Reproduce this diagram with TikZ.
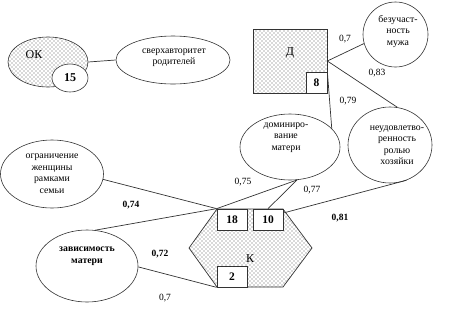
\documentclass[tikz,border=0pt]{standalone}
\usepackage{fontspec}
\setmainfont{Liberation Serif}
\usetikzlibrary{patterns,calc,shapes.geometric}
\pgfdeclarepatternformonly{sparsedots}{\pgfqpoint{-1pt}{-1pt}}{\pgfqpoint{4pt}{4pt}}{\pgfqpoint{4pt}{4pt}}{%
  \pgfpathcircle{\pgfqpoint{0pt}{0pt}}{0.55pt}%
  \pgfpathcircle{\pgfqpoint{2pt}{2pt}}{0.55pt}%
  \pgfusepath{fill}}
\begin{document}
\begin{tikzpicture}[x=1pt,y=-1pt,
  ln/.style={draw=black!80, line width=0.7pt},
  ell/.style={ellipse, draw=black!80, line width=0.6pt, inner sep=0pt},
  etxt/.style={font=\fontsize{9.8}{11.5}\selectfont, align=center, inner sep=0pt},
  nbox/.style={rectangle, draw=black!80, line width=0.7pt, fill=white, inner sep=0pt, font=\fontsize{11.5}{13}\selectfont\bfseries},
  val/.style={font=\fontsize{9.5}{10}\selectfont, inner sep=0pt},
  bval/.style={val, font=\fontsize{9.5}{10}\selectfont\bfseries},
  big/.style={font=\fontsize{12}{13}\selectfont, inner sep=0pt},
  dotfill/.style={pattern=sparsedots, pattern color=black!65}]
\useasboundingbox (0,0) rectangle (452,311);

% OK
\node[ell, dotfill, minimum width=80pt, minimum height=50pt] (ok) at (48,62) {};
\node[big] (okl) at (34,55) {ОК};
\node[ell, minimum width=114pt, minimum height=48pt] (sv) at (173,60) {};
\node[etxt] (svt) at (174,57.5) {сверхавторитет\\родителей};
\draw[ln] (ok.east) -- (sv.west);
\node[ell, fill=white, minimum width=36pt, minimum height=28pt, font=\fontsize{12}{13}\selectfont\bfseries] (n15) at (70,78) {15};

% D
\node[rectangle, draw=black!80, line width=0.7pt, dotfill, minimum width=74pt, minimum height=64pt] (d) at (290,61) {};
\node[big] (dl) at (290,53) {Д};
\node[nbox, minimum width=21pt, minimum height=21pt] (b8) at (316.5,82.5) {8};

% ellipses
\node[ell, minimum width=65pt, minimum height=65pt] (bez) at (395.5,34.5) {};
\node[etxt] (bezt) at (398,31.5) {безучаст-\\ность\\мужа};
\node[ell, minimum width=84pt, minimum height=76pt] (neud) at (390,145) {};
\node[etxt] (neudt) at (397,145) {неудовлетво-\\ренность\\ролью\\хозяйки};
\node[ell, minimum width=100pt, minimum height=66pt] (dom) at (290,147) {};
\node[etxt] (domt) at (286,137.5) {доминиро-\\вание\\матери};
\node[ell, minimum width=103pt, minimum height=68pt] (ogr) at (52,174) {};
\node[etxt] (ogrt) at (52,173.5) {ограничение\\женщины\\рамками\\семьи};
\node[ell, minimum width=102pt, minimum height=72pt] (zav) at (87,266) {};
\node[etxt, font=\fontsize{9.8}{11.5}\selectfont\bfseries] (zavt) at (87,256) {зависимость\\матери};

% hexagon K
\coordinate (h1) at (189,248);
\coordinate (h2) at (217,209);
\coordinate (h3) at (283,209);
\coordinate (h4) at (312,248);
\coordinate (h5) at (283,287);
\coordinate (h6) at (217,287);
\filldraw[ln, dotfill] (h1) -- (h2) -- (h3) -- (h4) -- (h5) -- (h6) -- cycle;
\node[nbox, minimum width=30pt, minimum height=21pt] (b18) at (232,219.5) {18};
\node[nbox, minimum width=30pt, minimum height=21pt] (b10) at (268,219.5) {10};
\node[nbox, minimum width=30pt, minimum height=21pt] (b2) at (232,276.5) {2};
\node[big] (kl) at (250,259) {К};

% connectors
\draw[ln] (d.east) -- (bez.196);
\draw[ln] (d.east) -- (neud.79);
\draw[ln] (b8.north east) -- (dom.24);
\draw[ln] (dom.282) -- (b18.north west);
\draw[ln] (dom.282) -- (b10.north);
\draw[ln] (neud.295) -- ($(b10.north east)!0.2!(b10.south east)$);
\draw[ln] (ogr.354) -- (b18.north west);
\draw[ln] (zav.77) -- (b18.north west);
\draw[ln] (zav.359) -- (b2.south west);

% values
\node[val] (v1) at (345,39) {0,7};
\node[val] (v2) at (377,73) {0,83};
\node[val] (v3) at (348,101) {0,79};
\node[val] (v4) at (243,182) {0,75};
\node[val] (v5) at (312,190) {0,77};
\node[bval] (v6) at (340,218) {0,81};
\node[bval] (v7) at (131,205) {0,74};
\node[bval] (v8) at (160,254) {0,72};
\node[val] (v9) at (165,298) {0,7};
\end{tikzpicture}
\end{document}
